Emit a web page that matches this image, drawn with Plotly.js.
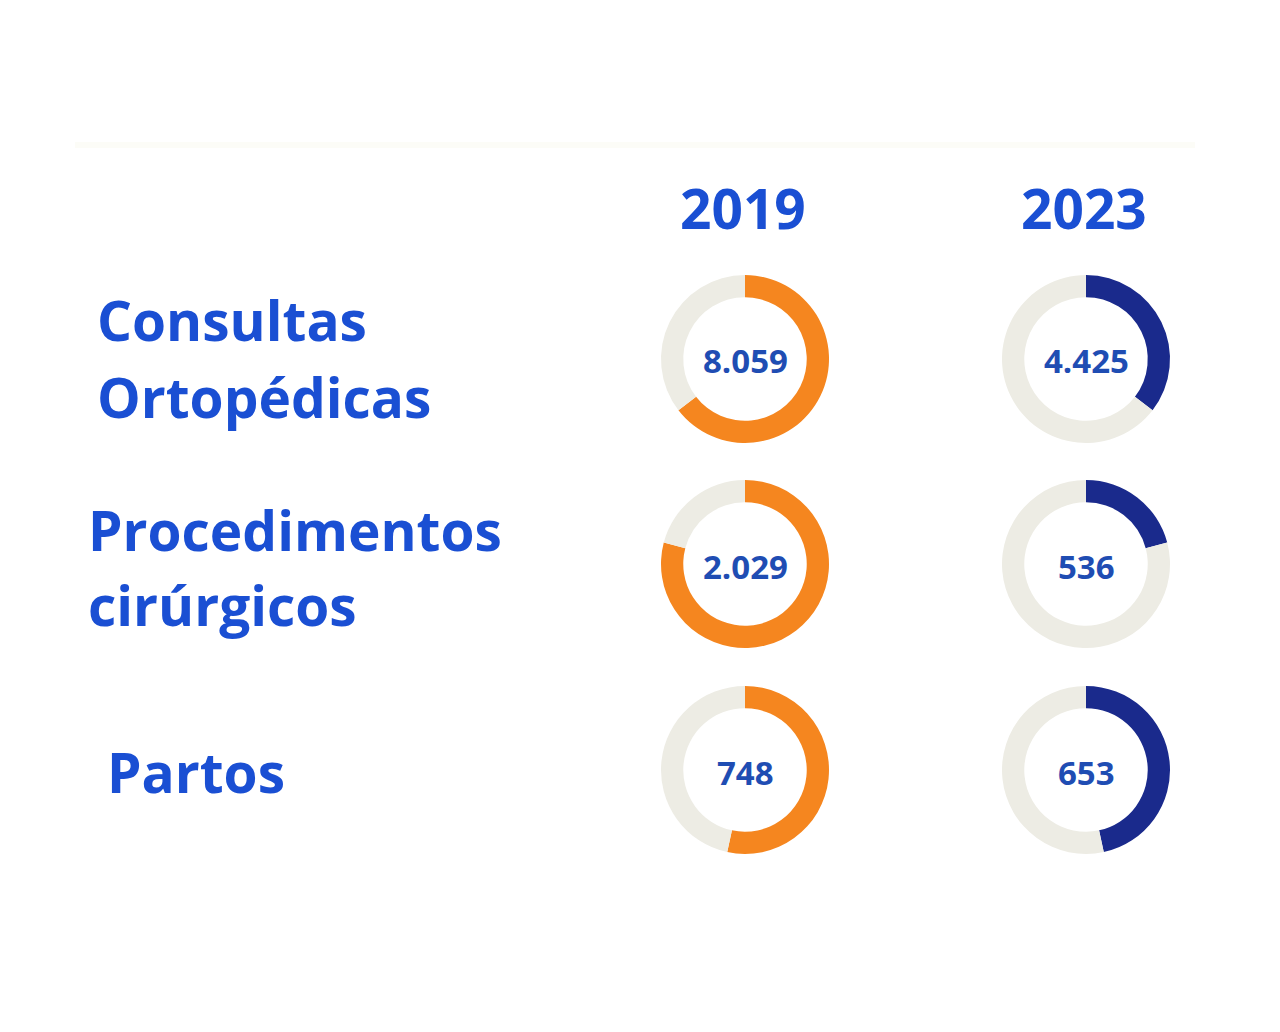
<!DOCTYPE html>
<html>
<head>
<meta charset="utf-8">
<script src="https://cdn.plot.ly/plotly-3.0.1.min.js"></script>
<style>
  html, body { margin: 0; padding: 0; background: #ffffff; }
  #chart { width: 1280px; height: 1032px; }
</style>
</head>
<body>
<div id="chart"></div>
<script>
// Atendimentos por categoria, 2019 x 2023
const categories = [
  ['Consultas', 'Ortopédicas'],
  ['Procedimentos', 'cirúrgicos'],
  ['Partos']
];
const years = ['2019', '2023'];
const values2019 = [8059, 2029, 748];
const values2023 = [4425, 536, 653];

const yearColors = ['#f5861f', '#1a2a8c'];
const restColor = '#edece4';
const labelBlue = '#1a4fd3';
const valueBlue = '#1f4db3';

// thousands separator in pt-BR style
function fmt(v) {
  return String(v).replace(/\B(?=(\d{3})+(?!\d))/g, '.');
}

const W = 1280, H = 1032;
const colX = [745, 1086];            // donut centres per year
const rowY = [359, 564, 770];        // donut centres per category
const R = 84;                         // donut outer radius (px)

const series = [values2019, values2023];
const traces = [];
const annotations = [];

series.forEach((vals, c) => {
  vals.forEach((v, r) => {
    const other = series[1 - c][r];
    const cx = colX[c], cy = rowY[r];
    traces.push({
      type: 'pie',
      values: [v, other],
      labels: [years[c], 'resto'],
      hole: 0.735,
      sort: false,
      direction: 'clockwise',
      rotation: 0,
      textinfo: 'none',
      hoverinfo: 'none',
      showlegend: false,
      marker: { colors: [yearColors[c], restColor], line: { width: 0 } },
      domain: {
        x: [(cx - R) / W, (cx + R) / W],
        y: [1 - (cy + R) / H, 1 - (cy - R) / H]
      }
    });
    annotations.push({
      xref: 'paper', yref: 'paper',
      x: cx / W, y: 1 - (cy + 2) / H,
      xanchor: 'center', yanchor: 'middle',
      text: fmt(v),
      showarrow: false,
      font: { family: 'Open Sans', size: 33, weight: 700, color: valueBlue }
    });
  });
});

// column headers
years.forEach((y, c) => {
  annotations.push({
    xref: 'paper', yref: 'paper',
    x: (colX[c] - 2) / W, y: 1 - 207 / H,
    xanchor: 'center', yanchor: 'middle',
    text: y,
    showarrow: false,
    font: { family: 'Open Sans', size: 55, weight: 700, color: labelBlue }
  });
});

// row labels
const labelX = [95, 86, 105];
const labelLineY = [[319, 396], [529, 604], [771]];
categories.forEach((lines, r) => {
  lines.forEach((line, i) => {
    annotations.push({
      xref: 'paper', yref: 'paper',
      x: labelX[r] / W, y: 1 - labelLineY[r][i] / H,
      xanchor: 'left', yanchor: 'middle',
      text: line,
      showarrow: false,
      font: { family: 'Open Sans', size: 55, weight: 700, color: labelBlue }
    });
  });
});

const layout = {
  width: W, height: H,
  margin: { l: 0, r: 0, t: 0, b: 0 },
  paper_bgcolor: '#ffffff',
  plot_bgcolor: '#ffffff',
  annotations: annotations,
  shapes: [{
    type: 'line', xref: 'paper', yref: 'paper',
    x0: 75 / W, x1: 1195 / W, y0: 1 - 145 / H, y1: 1 - 145 / H,
    line: { color: '#fcfcf7', width: 6 }
  }]
};

Plotly.newPlot('chart', traces, layout, { staticPlot: true, displayModeBar: false });
</script>
</body>
</html>
